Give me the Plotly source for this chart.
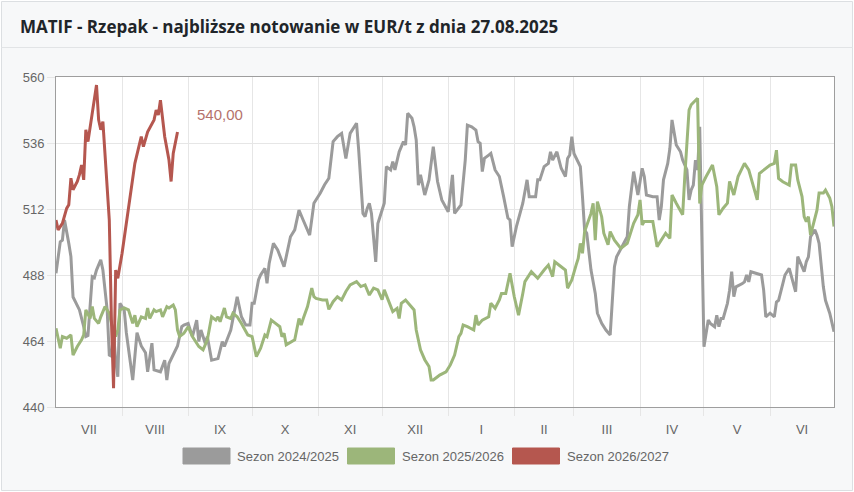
import plotly.graph_objects as go

# ---------------- data (day of season since 1 July, value EUR/t) ----------------
month_labels = ["VII", "VIII", "IX", "X", "XI", "XII", "I", "II", "III", "IV", "V", "VI"]
month_days = [31, 31, 30, 31, 30, 31, 31, 28, 31, 30, 31, 30]

series_names = ["Sezon 2024/2025", "Sezon 2025/2026", "Sezon 2026/2027"]
series_colors = ["#9b9b9b", "#9cb67a", "#b5574f"]

days_2425 = [0, 2, 3, 4, 6, 7, 8, 10, 11, 13, 14, 15, 17, 18, 19, 21, 22, 24, 25, 26, 27, 28, 29, 30,
             32, 33, 36, 38, 40, 42, 43, 45, 46, 49, 51, 52, 53, 57, 59, 60, 62, 64, 66, 67, 68, 70,
             71, 73, 76, 78, 79, 82, 84, 85, 87, 89, 91, 92, 93, 95, 96, 98, 99, 100, 102, 104, 107,
             108, 110, 112, 114, 116, 119, 121, 124, 126, 128, 130, 132, 134, 135, 136, 138, 140, 141,
             142, 144, 145, 146, 147, 148, 150, 151, 152, 154, 155, 157, 158, 159, 161, 163, 164, 165,
             167, 168, 169, 170, 171, 173, 175, 177, 179, 181, 184, 186, 187, 190, 192, 193, 195, 197,
             198, 199, 200, 201, 203, 204, 206, 208, 210, 212, 213, 214, 216, 219, 221, 222, 225, 226,
             227, 228, 229, 231, 232, 233, 235, 236, 237, 239, 240, 241, 242, 243, 244, 246, 247, 248,
             249, 250, 251, 253, 254, 256, 258, 260, 261, 262, 263, 265, 268, 269, 271, 273, 275, 276,
             277, 280, 282, 283, 284, 285, 287, 288, 289, 291, 293, 294, 296, 297, 298, 299, 300, 301,
             302, 303, 304, 306, 307, 309, 310, 311, 312, 313, 315, 316, 317, 318, 319, 322, 323, 324,
             325, 326, 329, 331, 332, 333, 335, 337, 338, 339, 341, 342, 344, 346, 347, 348, 350, 351,
             352, 353, 354, 356, 357, 358, 360, 361, 363, 365]
vals_2425 = [488.6, 500.1, 500.7, 508.0, 499.5, 494.7, 480.0, 476.5, 475.3, 469.2, 465.6, 466.0, 487.4,
             487.0, 489.8, 493.5, 489.8, 475.3, 458.9, 458.5, 467.0, 457.0, 451.0, 477.7, 475.3, 467.0,
             449.8, 467.0, 462.2, 459.7, 452.8, 463.2, 453.5, 452.8, 457.0, 449.8, 455.8, 462.2, 469.2,
             469.8, 470.4, 465.6, 471.6, 463.8, 468.0, 463.2, 465.6, 457.0, 457.6, 463.8, 462.0, 468.0,
             475.3, 480.1, 472.8, 469.8, 469.8, 477.7, 477.7, 486.2, 488.0, 490.4, 485.0, 492.2, 499.5,
             497.1, 491.0, 494.6, 501.9, 504.4, 511.6, 507.9, 502.5, 514.1, 517.8, 520.8, 523.2, 536.5,
             538.3, 539.5, 535.3, 530.4, 539.5, 541.9, 543.2, 533.5, 510.4, 509.2, 512.2, 514.1, 510.4,
             492.8, 506.7, 509.2, 514.1, 527.4, 526.2, 529.2, 526.2, 532.8, 536.5, 535.3, 546.8, 545.0,
             541.9, 537.1, 520.7, 524.4, 517.1, 522.6, 534.7, 522.0, 515.3, 511.0, 524.4, 510.4, 513.5,
             529.8, 542.5, 541.9, 540.7, 536.5, 535.9, 525.6, 530.4, 531.6, 532.2, 526.2, 523.8, 516.5,
             508.7, 508.0, 498.3, 505.6, 514.1, 522.6, 516.5, 516.5, 522.6, 522.6, 525.0, 527.4, 528.6,
             532.8, 529.8, 532.8, 529.8, 526.8, 523.8, 530.4, 531.6, 538.3, 532.2, 530.4, 527.4, 516.5,
             504.4, 503.2, 497.1, 489.8, 481.3, 474.1, 470.4, 468.0, 466.2, 477.7, 491.0, 494.6, 497.7,
             501.9, 513.0, 525.6, 517.1, 526.8, 523.8, 517.1, 516.5, 516.5, 508.0, 512.9, 522.6, 528.6,
             534.0, 544.4, 535.3, 532.8, 529.8, 526.2, 515.3, 518.9, 520.7, 529.8, 526.2, 541.9, 502.0,
             461.9, 471.6, 470.4, 469.2, 473.4, 469.2, 472.2, 472.2, 477.7, 482.5, 489.2, 480.1, 483.7,
             484.9, 485.5, 488.0, 485.5, 489.2, 488.6, 488.0, 482.5, 472.8, 474.1, 472.8, 478.2, 478.8,
             484.9, 488.0, 490.4, 484.9, 481.9, 494.7, 491.0, 489.2, 492.8, 494.6, 501.9, 504.4, 502.5,
             499.5, 483.7, 478.8, 474.1, 467.4]

days_2526 = [0, 1, 2, 3, 5, 7, 8, 10, 12, 13, 14, 16, 17, 18, 20, 21, 23, 25, 26, 28, 29, 30, 32, 34,
             36, 37, 38, 40, 42, 43, 44, 46, 47, 49, 50, 52, 53, 55, 56, 57, 58, 60, 62, 64, 67, 69,
             71, 72, 73, 75, 76, 77, 79, 80, 82, 83, 85, 87, 89, 90, 92, 94, 96, 98, 99, 101, 103, 105,
             106, 107, 108, 111, 112, 114, 115, 116, 117, 118, 120, 121, 122, 125, 127, 128, 130, 132,
             134, 136, 138, 141, 143, 145, 147, 149, 151, 153, 154, 156, 158, 160, 161, 162, 164, 166,
             168, 169, 171, 173, 175, 176, 177, 179, 180, 183, 185, 187, 189, 190, 191, 193, 196, 197,
             198, 200, 203, 204, 206, 208, 209, 211, 213, 215, 217, 219, 220, 223, 226, 229, 231, 233,
             234, 237, 239, 240, 242, 244, 245, 246, 247, 248, 251, 252, 253, 254, 256, 257, 259, 260,
             262, 265, 268, 271, 273, 274, 275, 276, 280, 282, 284, 286, 288, 289, 291, 293, 294, 295,
             297, 298, 300, 301, 302, 303, 305, 308, 310, 311, 313, 315, 316, 317, 318, 320, 323, 325,
             327, 329, 330, 333, 335, 337, 338, 339, 341, 344, 345, 347, 348, 350, 351, 352, 353, 354,
             355, 357, 358, 360, 361, 363, 364, 365]
vals_2526 = [468.6, 464.4, 461.4, 465.6, 465.0, 466.2, 458.9, 462.0, 464.4, 466.2, 475.3, 472.2, 476.5,
             472.2, 470.4, 472.8, 476.5, 474.1, 470.4, 465.6, 468.0, 475.3, 476.0, 475.3, 470.4, 473.4,
             469.2, 472.8, 472.2, 476.0, 472.2, 475.3, 474.7, 475.3, 472.8, 476.5, 476.0, 477.1, 475.3,
             468.0, 465.6, 466.8, 469.2, 465.6, 462.0, 460.8, 464.4, 468.6, 472.8, 471.6, 472.8, 471.0,
             476.0, 472.8, 472.2, 474.1, 472.8, 470.4, 467.5, 466.2, 465.6, 458.3, 461.4, 466.2, 465.6,
             471.6, 470.4, 469.2, 465.6, 466.8, 462.6, 463.8, 464.4, 472.2, 469.8, 472.2, 474.1, 476.5,
             483.2, 480.1, 479.5, 478.9, 478.9, 475.5, 478.3, 480.1, 478.9, 482.0, 484.4, 485.6, 483.8,
             484.4, 480.7, 483.2, 482.6, 479.0, 482.6, 478.9, 474.7, 475.9, 472.2, 477.7, 478.9, 477.1,
             475.3, 468.0, 460.8, 457.2, 454.7, 449.8, 449.8, 451.0, 451.6, 452.8, 455.3, 458.9, 465.6,
             466.8, 469.8, 469.2, 468.0, 473.4, 469.8, 471.6, 472.8, 477.7, 475.9, 478.9, 481.3, 481.3,
             488.6, 480.1, 473.4, 481.3, 485.6, 489.2, 486.8, 489.8, 491.6, 487.4, 492.8, 491.0, 489.8,
             483.2, 486.2, 491.6, 494.0, 499.5, 495.9, 503.8, 510.4, 514.1, 500.7, 514.7, 509.2, 503.2,
             499.0, 503.8, 500.7, 497.7, 499.5, 506.8, 509.9, 515.3, 506.2, 507.5, 507.5, 498.3, 500.7,
             503.2, 501.3, 517.1, 514.1, 511.6, 509.9, 523.8, 548.0, 549.9, 551.6, 552.3, 514.0, 520.7,
             523.8, 528.0, 520.1, 509.9, 512.3, 514.1, 522.0, 519.5, 517.1, 523.8, 528.6, 526.2, 520.8,
             515.3, 524.9, 526.8, 528.0, 528.6, 533.4, 523.1, 521.9, 520.7, 528.0, 528.0, 522.6, 516.5,
             509.2, 507.4, 509.2, 502.5, 505.6, 511.6, 517.8, 517.8, 518.9, 516.0, 512.9, 505.6]

days_2627 = [0, 1, 3, 5, 6, 7, 8, 10, 11, 12, 13, 14, 15, 16, 19, 20, 21, 22, 25, 26, 27, 28, 29, 31,
             34, 37, 40, 41, 43, 46, 47, 48, 49, 51, 53, 54, 55, 57]
vals_2627 = [508.0, 504.4, 506.8, 512.2, 513.5, 523.2, 519.0, 522.0, 524.5, 528.0, 522.6, 540.8, 536.5,
             541.9, 557.1, 544.4, 540.8, 543.8, 508.0, 471.6, 446.8, 489.8, 486.8, 495.9, 512.9, 528.6,
             538.3, 534.7, 540.1, 544.4, 548.0, 546.2, 551.6, 538.3, 529.8, 522.0, 532.2, 540.0]

y_ticks = [440, 464, 488, 512, 536, 560]
title_text = "MATIF - Rzepak - najbliższe notowanie w EUR/t z dnia 27.08.2025"

# ---------------- layout geometry helpers ----------------
W, H = 854, 492
L, R, T, B = 56, 20, 77, 85
PW, PH = W - L - R, H - T - B


def px(x):
    return (x - L) / PW


def py(y):
    return (H - B - y) / PH


bounds = [0]
for d in month_days:
    bounds.append(bounds[-1] + d)
mids = [(a + b) / 2 for a, b in zip(bounds[:-1], bounds[1:])]

fig = go.Figure()
all_days = [days_2425, days_2526, days_2627]
all_vals = [vals_2425, vals_2526, vals_2627]
for name, col, d, v in zip(series_names, series_colors, all_days, all_vals):
    fig.add_trace(go.Scatter(x=d, y=v, mode="lines", name=name,
                             line=dict(color=col, width=3), hoverinfo="skip",
                             showlegend=False))

grid = "#e6e6e6"
axis_font = dict(family="Liberation Sans, Arial, sans-serif", size=13, color="#666666")

fig.update_xaxes(range=[0, bounds[-1]], tickmode="array", tickvals=mids, ticktext=month_labels,
                 showgrid=False, ticks="outside", ticklen=10, tickcolor="rgba(0,0,0,0)",
                 showline=True, linecolor="#9e9e9e", linewidth=1, mirror=True, zeroline=False,
                 tickfont=axis_font,
                 minor=dict(tickmode="array", tickvals=bounds[1:-1], showgrid=True, gridcolor=grid,
                            gridwidth=1, ticks="outside", ticklen=8, tickcolor=grid, tickwidth=1))
fig.update_yaxes(range=[440, 560], tickmode="array", tickvals=y_ticks, showgrid=True, gridcolor=grid,
                 ticks="outside", ticklen=8, tickcolor=grid, showline=True, linecolor="#9e9e9e",
                 linewidth=1, mirror=True, zeroline=False, tickfont=axis_font)

shapes = [
    # card body
    dict(type="rect", xref="paper", yref="paper", x0=px(1.5), x1=px(852.5), y0=py(490.5), y1=py(1.5),
         fillcolor="#f7f8f9", line=dict(color="#dcdfe2", width=1), layer="below"),
    # header separator
    dict(type="line", xref="paper", yref="paper", x0=px(1.5), x1=px(852.5), y0=py(47.5), y1=py(47.5),
         line=dict(color="#e2e4e6", width=1), layer="below"),
    # plot area
    dict(type="rect", xref="paper", yref="paper", x0=0, x1=1, y0=0, y1=1,
         fillcolor="#ffffff", line=dict(width=0), layer="below"),
]

annotations = [
    dict(xref="paper", yref="paper", x=px(18), y=py(27), xanchor="left", yanchor="middle",
         text="<b>" + title_text + "</b>", showarrow=False,
         font=dict(family="Open Sans, Noto Sans, sans-serif", size=17, color="#212529")),
    dict(x=days_2627[-1], y=vals_2627[-1], xref="x", yref="y", xanchor="left", yanchor="middle",
         xshift=17, yshift=18, showarrow=False,
         text=f"{vals_2627[-1]:.2f}".replace(".", ","),
         font=dict(family="Liberation Sans, Arial, sans-serif", size=15, color="#b5726c")),
]

# legend drawn as boxes + labels
leg_box_x = [183, 347.5, 512.5]
for name, col, bx in zip(series_names, series_colors, leg_box_x):
    shapes.append(dict(type="rect", xref="paper", yref="paper", x0=px(bx), x1=px(bx + 47),
                       y0=py(464), y1=py(448), fillcolor=col, line=dict(color=col, width=1),
                       layer="above"))
    annotations.append(dict(xref="paper", yref="paper", x=px(bx + 52), y=py(456), xanchor="left",
                            yanchor="middle", text=name, showarrow=False,
                            font=dict(family="Liberation Sans, Arial, sans-serif", size=13,
                                      color="#666666")))

fig.update_layout(width=W, height=H, margin=dict(l=L, r=R, t=T, b=B),
                  paper_bgcolor="#ffffff", plot_bgcolor="#ffffff",
                  shapes=shapes, annotations=annotations, showlegend=False,
                  hovermode=False)

fig.write_html("out.html", config={"displayModeBar": False},
               post_script="document.body.style.margin='0px';document.body.style.overflow='hidden';")
